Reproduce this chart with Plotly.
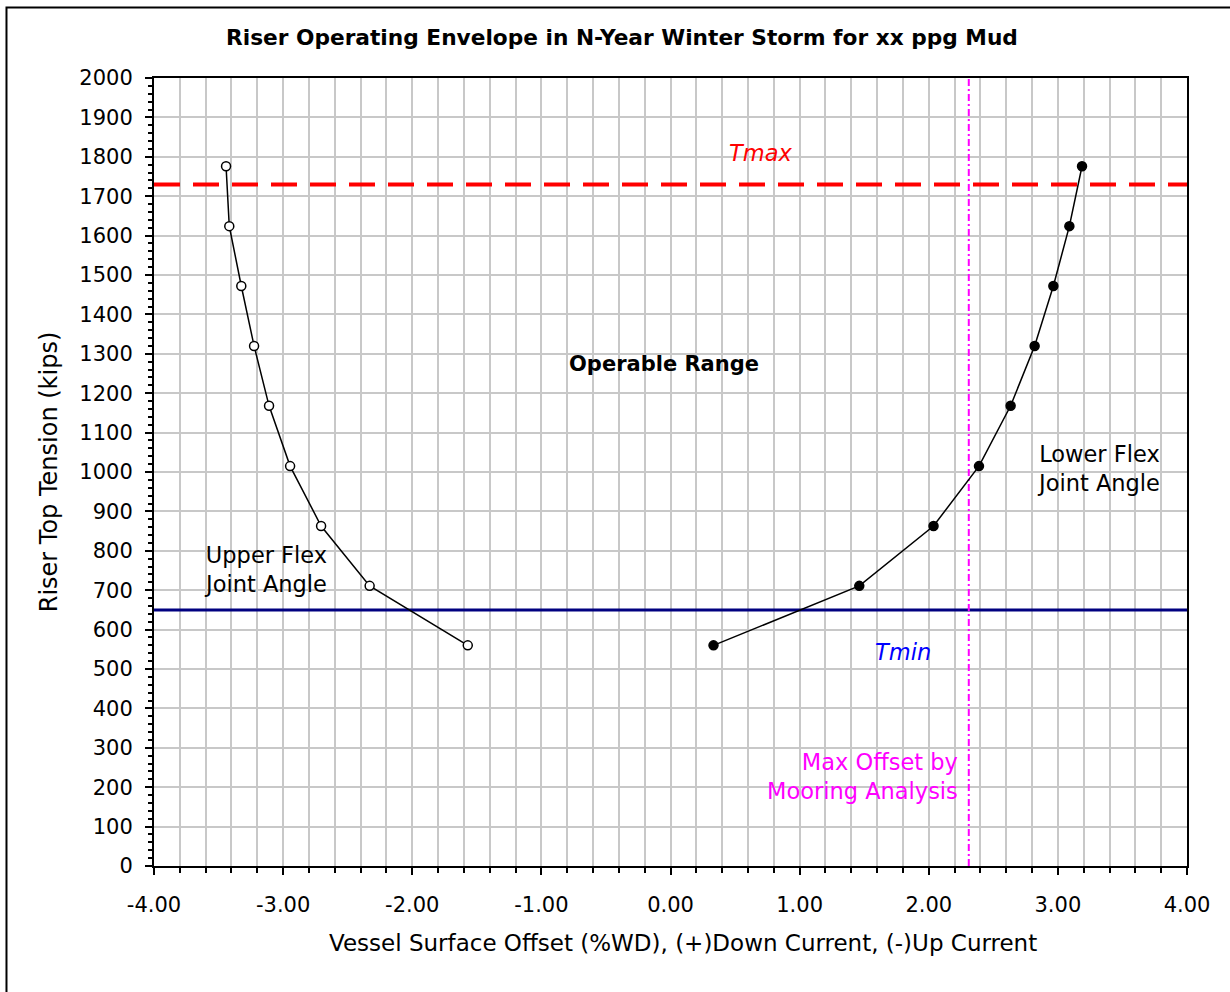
import plotly.graph_objects as go

# Riser envelope data: vessel offset (%WD) vs. riser top tension (kips)
tension = [560, 711, 863, 1015, 1168, 1320, 1472, 1624, 1776]
upper_fj_offset = [-1.57, -2.33, -2.706, -2.946, -3.109, -3.225, -3.324, -3.417, -3.442]
lower_fj_offset = [0.333, 1.462, 2.037, 2.389, 2.634, 2.820, 2.965, 3.089, 3.187]

# Limits
T_MAX = 1730
T_MIN = 650
MAX_MOORING_OFFSET = 2.31

X_RANGE = [-4, 4]
Y_RANGE = [0, 2000]
x_ticks = [-4, -3, -2, -1, 0, 1, 2, 3, 4]

FONT = "DejaVu Sans, Liberation Sans, Arial, sans-serif"
GRID = "#c8c8c8"

fig = go.Figure()

# Tension limits and mooring offset limit
fig.add_trace(go.Scatter(x=X_RANGE, y=[T_MAX, T_MAX], mode="lines",
                         line=dict(color="#ff0000", width=4, dash="26px,13px"),
                         hoverinfo="skip", showlegend=False))
fig.add_trace(go.Scatter(x=X_RANGE, y=[T_MIN, T_MIN], mode="lines",
                         line=dict(color="#000080", width=3),
                         hoverinfo="skip", showlegend=False))
fig.add_trace(go.Scatter(x=[MAX_MOORING_OFFSET, MAX_MOORING_OFFSET], y=Y_RANGE, mode="lines",
                         line=dict(color="#ff00ff", width=2, dash="7px,3px,2px,3px"),
                         hoverinfo="skip", showlegend=False))

# Flex joint angle envelopes
fig.add_trace(go.Scatter(x=upper_fj_offset, y=tension, mode="lines+markers",
                         line=dict(color="black", width=1.5),
                         marker=dict(symbol="circle", size=9, color="white",
                                     line=dict(color="black", width=1.5)),
                         name="Upper Flex Joint Angle", showlegend=False))
fig.add_trace(go.Scatter(x=lower_fj_offset, y=tension, mode="lines+markers",
                         line=dict(color="black", width=1.5),
                         marker=dict(symbol="circle", size=9, color="black",
                                     line=dict(color="black", width=1.5)),
                         name="Lower Flex Joint Angle", showlegend=False))

ann_font = dict(family=FONT, size=22.5, color="black")
annotations = [
    dict(x=0.70, y=1809, text="<i>Tmax</i>", font=dict(family=FONT, size=22.5, color="#ff0000")),
    dict(x=-0.05, y=1273, text="<b>Operable Range</b>", font=dict(family=FONT, size=21, color="black")),
    dict(x=-3.14, y=753, text="Upper Flex<br>Joint Angle", font=ann_font),
    dict(x=3.313, y=1010, text="Lower Flex<br>Joint Angle", font=ann_font),
    dict(x=1.803, y=543, text="<i>Tmin</i>", font=dict(family=FONT, size=22.5, color="#0000ff")),
    dict(x=2.244, y=228, text="Max Offset by<br>Mooring Analysis", xanchor="right", align="right",
         font=dict(family=FONT, size=22.5, color="#ff00ff")),
]
for a in annotations:
    a.setdefault("xanchor", "center")
    fig.add_annotation(xref="x", yref="y", showarrow=False, yanchor="middle", **a)

# Chart title
fig.add_annotation(xref="paper", yref="paper", x=0.453, y=1.0, yshift=41,
                   text="<b>Riser Operating Envelope in N-Year Winter Storm for xx ppg Mud</b>",
                   showarrow=False, xanchor="center", yanchor="middle",
                   font=dict(family=FONT, size=21.7, color="black"))

# X-axis title
fig.add_annotation(xref="paper", yref="paper", x=0.512, y=-0.0977,
                   text="Vessel Surface Offset (%WD), (+)Down Current, (-)Up Current",
                   showarrow=False, xanchor="center", yanchor="middle",
                   font=dict(family=FONT, size=23, color="black"))

# Outer chart frame
fig.add_shape(type="rect", xref="paper", yref="paper",
              x0=-0.1428, x1=1.06, y0=-0.18, y1=1.0895,
              line=dict(color="black", width=2), fillcolor="rgba(0,0,0,0)", layer="below")

fig.update_layout(
    width=1230, height=992,
    margin=dict(l=154, r=43, t=78, b=126),
    paper_bgcolor="white", plot_bgcolor="white",
    font=dict(family=FONT, size=21, color="black"),
    xaxis=dict(
        range=X_RANGE, tickmode="array", tickvals=x_ticks,
        ticktext=[f"{v:.2f}" for v in x_ticks],
        ticks="outside", ticklen=7, tickwidth=1.5, tickcolor="black",
        ticklabelstandoff=12,
        showline=True, linewidth=2, linecolor="black", mirror=True,
        showgrid=True, gridcolor=GRID, gridwidth=1.5, zeroline=False,
        minor=dict(dtick=0.2, tick0=-4, ticks="outside", ticklen=5, tickwidth=1.5,
                   tickcolor="black", showgrid=True, gridcolor=GRID, gridwidth=1.5),
        tickfont=dict(family=FONT, size=21),
    ),
    yaxis=dict(
        range=Y_RANGE, tick0=0, dtick=100,
        ticks="outside", ticklen=7, tickwidth=1.5, tickcolor="black",
        ticklabelstandoff=8,
        showline=True, linewidth=2, linecolor="black", mirror=True,
        showgrid=True, gridcolor=GRID, gridwidth=1.5, zeroline=False,
        minor=dict(dtick=20, ticks="outside", ticklen=4, tickwidth=1.5,
                   tickcolor="black", showgrid=False),
        tickfont=dict(family=FONT, size=21),
        title=dict(text="Riser Top Tension (kips)", font=dict(family=FONT, size=24), standoff=15),
    ),
)

fig.write_html("out.html")
